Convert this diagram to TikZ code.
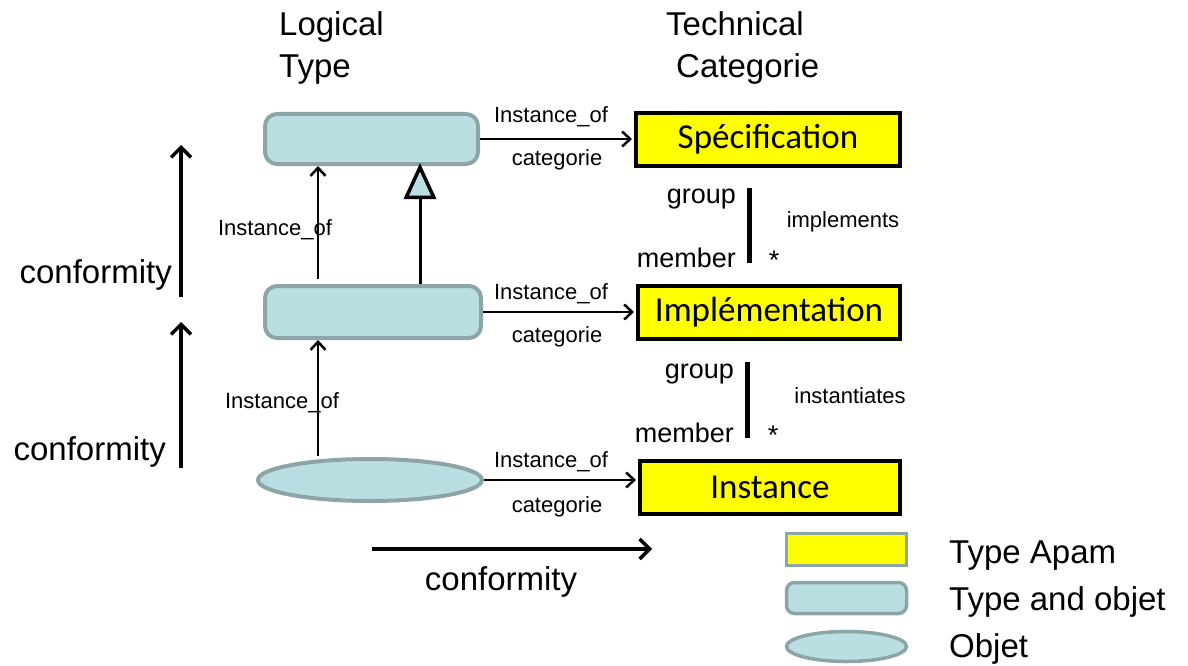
\documentclass[tikz,border=0pt]{standalone}
\usepackage{fontspec}
\setmainfont{Liberation Sans}
\newfontfamily\calibri{Carlito}
\usetikzlibrary{arrows.meta,shapes.geometric}

\definecolor{objfill}{RGB}{185,223,226}
\definecolor{objline}{RGB}{141,165,166}
\definecolor{apam}{RGB}{255,255,0}

\begin{document}
\begin{tikzpicture}[x=1pt,y=-1pt,
  bigtxt/.style={font=\fontsize{33}{40}\selectfont, inner sep=0pt},
  smalltxt/.style={font=\fontsize{22}{26}\selectfont, inner sep=0pt},
  roletxt/.style={font=\fontsize{27}{32}\selectfont, inner sep=0pt},
  typebox/.style={draw=objline, fill=objfill, line width=4pt, rounded corners=12pt, inner sep=0pt},
  objshape/.style={ellipse, draw=objline, fill=objfill, line width=4pt, inner sep=0pt},
  apambox/.style={draw=black, fill=apam, line width=4pt, inner sep=0pt,
    font=\calibri\fontsize{35}{40}\selectfont},
  thinarr/.style={line width=2.5pt, -{Straight Barb[length=8pt,width=15pt,line width=2.5pt]}},
  specarr/.style={line width=3pt, shorten >=-3pt, -{Triangle[open, fill=objfill, length=36pt, width=32pt, line width=3.5pt]}},
  conformarr/.style={line width=4pt, -{Straight Barb[length=10pt,width=20pt,line width=3.5pt]}},
  rolebar/.style={line width=5pt},
  legapam/.style={draw=objline, fill=apam, line width=3.5pt, inner sep=0pt, minimum width=120pt, minimum height=32pt},
  legtype/.style={draw=objline, fill=objfill, line width=3.5pt, rounded corners=8pt, inner sep=0pt, minimum width=120pt, minimum height=31pt},
  legobj/.style={ellipse, draw=objline, fill=objfill, line width=3.5pt, inner sep=0pt, minimum width=120pt, minimum height=30pt},
]
\useasboundingbox (0,0) rectangle (1188,666);

% column headings
\node[bigtxt, anchor=base west] (hl1) at (279,36) {Logical};
\node[bigtxt, anchor=base west] (hl2) at (279,78) {Type};
\node[bigtxt, anchor=base west] (ht1) at (666,36) {Technical};
\node[bigtxt, anchor=base west] (ht2) at (676,78) {Categorie};

% logical side
\node[typebox, minimum width=213pt, minimum height=50pt] (lt1) at (371.5,139) {};
\node[typebox, minimum width=216pt, minimum height=52pt] (lt2) at (373,312) {};
\node[objshape, minimum width=224pt, minimum height=42pt] (ob) at (370,480) {};

% technical side
\node[apambox, minimum width=264pt, minimum height=53pt] (spec) at (768,139.5) {Spécification};
\node[apambox, minimum width=262pt, minimum height=53pt] (impl) at (769,312.5) {Implémentation};
\node[apambox, minimum width=260pt, minimum height=53pt] (inst) at (770,487.5) {Instance};

% instance_of / categorie links
\draw[thinarr, shorten >=2pt] (lt1.east) -- (lt1.east -| spec.west);
\draw[thinarr, shorten >=2pt] (lt2.east) -- (lt2.east -| impl.west);
\draw[thinarr, shorten >=2pt] (ob.east) -- (ob.east -| inst.west);
\node[smalltxt, anchor=base] (io1) at (551,123) {Instance\_of};
\node[smalltxt, anchor=base] (ca1) at (557,165) {categorie};
\node[smalltxt, anchor=base] (io2) at (551,299) {Instance\_of};
\node[smalltxt, anchor=base] (ca2) at (557,342) {categorie};
\node[smalltxt, anchor=base] (io3) at (551,467) {Instance\_of};
\node[smalltxt, anchor=base] (ca3) at (557,512) {categorie};

% vertical links on the logical side
\coordinate (vx1) at (318,0);
\coordinate (vx2) at (420,0);
\draw[thinarr, shorten <=5pt] (lt2.north -| vx1) -- (lt1.south -| vx1);
\draw[specarr] (lt2.north -| vx2) -- (lt1.south -| vx2);
\draw[thinarr, shorten <=1pt] (ob.north -| vx1) -- (lt2.south -| vx1);
\node[smalltxt, anchor=base] (iov1) at (275,235) {Instance\_of};
\node[smalltxt, anchor=base] (iov2) at (282,408) {Instance\_of};

% group / member relations
\coordinate (g1t) at (749,188);
\coordinate (g1b) at (749,263);
\draw[rolebar] (g1t) -- (g1b);
\node[roletxt, anchor=base east] (gr1) at (736,203) {group};
\node[roletxt, anchor=base east] (me1) at (736,267) {member};
\node[roletxt, anchor=north] (st1) at (774,251) {*};
\node[smalltxt, anchor=base] (rel1) at (843,227) {implements};

\coordinate (g2t) at (747,362);
\coordinate (g2b) at (747,438);
\draw[rolebar] (g2t) -- (g2b);
\node[roletxt, anchor=base east] (gr2) at (734,378) {group};
\node[roletxt, anchor=base east] (me2) at (734,442) {member};
\node[roletxt, anchor=north] (st2) at (773,426) {*};
\node[smalltxt, anchor=base] (rel2) at (850,403) {instantiates};

% conformity arrows
\coordinate (c1s) at (181,297);
\coordinate (c1e) at (181,145);
\draw[conformarr] (c1s) -- (c1e);
\node[bigtxt, anchor=base east] (cf1) at (172,283) {conformity};
\coordinate (c2s) at (181,468);
\coordinate (c2e) at (181,322);
\draw[conformarr] (c2s) -- (c2e);
\node[bigtxt, anchor=base east] (cf2) at (166,460) {conformity};
\coordinate (c3s) at (372,549);
\coordinate (c3e) at (652,549);
\draw[conformarr] (c3s) -- (c3e);
\node[bigtxt, anchor=base] (cf3) at (501,590) {conformity};

% legend
\node[legapam] (lg1) at (846.5,549.5) {};
\node[legtype] (lg2) at (846.5,598) {};
\node[legobj] (lg3) at (846.5,646.5) {};
\node[bigtxt, anchor=base west] (lt1txt) at (949,563) {Type Apam};
\node[bigtxt, anchor=base west] (lt2txt) at (949,610) {Type and objet};
\node[bigtxt, anchor=base west] (lt3txt) at (949,657) {Objet};
\end{tikzpicture}
\end{document}
